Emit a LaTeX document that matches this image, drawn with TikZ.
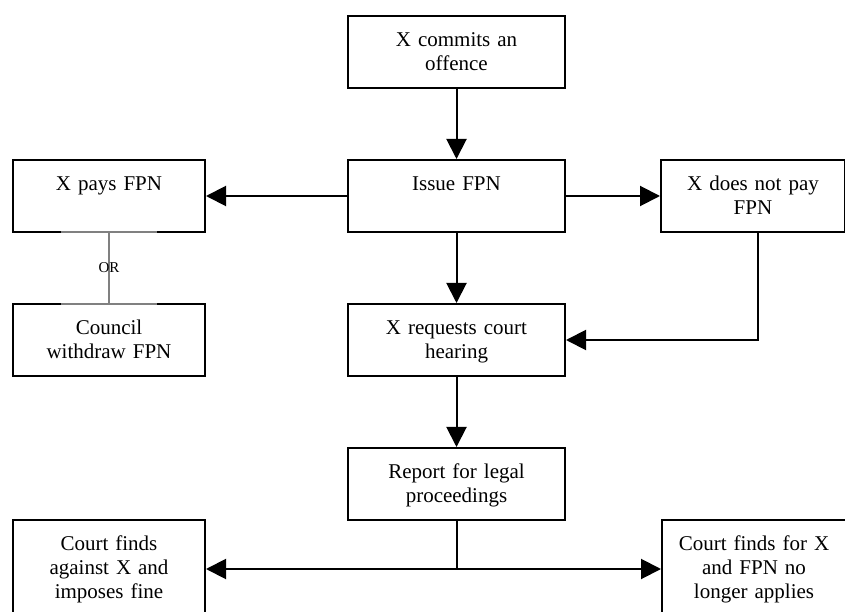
\documentclass[tikz,border=0pt]{standalone}
\usepackage{fontspec}
\setmainfont{Liberation Serif}
\usepackage{tikz}
\usetikzlibrary{arrows.meta}
\tikzstyle{arrow} = [line width=1bp,-{Triangle[length=10bp,width=10bp]}]

\begin{document}
\begin{tikzpicture}
        [
            x=0.5bp, y=-0.5bp,
            box/.style={rectangle,draw=black,line width=1bp,anchor=north west,align=center,inner sep=0pt,
                        text height=15.45bp,text depth=20.55bp,font=\fontsize{10.5bp}{12bp}\selectfont},
            courtbox/.style={box,text depth=33.55bp},
            orline/.style={draw=gray,line width=1bp},
        ]
    \useasboundingbox (0,0) rectangle (845,612);

    \node[box,text width=108.5bp] (offence) at (347,15) {X commits an\\offence};
    \node[box,text width=108.5bp] (issue) at (347,159) {Issue FPN};
    \node[box,text width=96bp] (pays) at (12,159) {X pays FPN};
    \node[box,text width=92bp] (notpay) at (660,159) {X does not pay\\FPN};
    \node[box,text width=96bp] (withdraw) at (12,303) {Council\\withdraw FPN};
    \node[box,text width=108.5bp] (hearing) at (347,303) {X requests court\\hearing};
    \node[box,text width=108.5bp] (report) at (347,447) {Report for legal\\proceedings};
    \node[courtbox,text width=96bp] (against) at (12,519) {Court finds\\against X and\\imposes fine};
    \node[courtbox,text width=92bp] (forx) at (661,519) {Court finds for X\\and FPN no\\longer applies};

    \draw[arrow] (offence) -- (issue);
    \draw[arrow] (issue) -- (pays);
    \draw[arrow] (issue) -- (notpay);
    \draw[arrow] (issue) -- (hearing);
    \draw[arrow] ([xshift=2.5bp]notpay.south) |- (hearing.east);
    \draw[arrow] (hearing) -- (report);

    % split below the report
    \coordinate (split) at (report.south |- against.east);
    \draw[line width=1bp] (report.south) -- (split);
    \draw[arrow] (split) -- (against.east);
    \draw[arrow] (split) -- (forx.west);

    % either / or
    \draw[orline] ([xshift=-24bp,yshift=0.5bp]pays.south) -- ([xshift=24bp,yshift=0.5bp]pays.south);
    \draw[orline] ([xshift=-24bp,yshift=-0.5bp]withdraw.north) -- ([xshift=24bp,yshift=-0.5bp]withdraw.north);
    \draw[orline] (pays.south) -- node[font=\fontsize{7.5bp}{9bp}\selectfont] (ortext) {OR} (withdraw.north);
    \end{tikzpicture}
\end{document}
